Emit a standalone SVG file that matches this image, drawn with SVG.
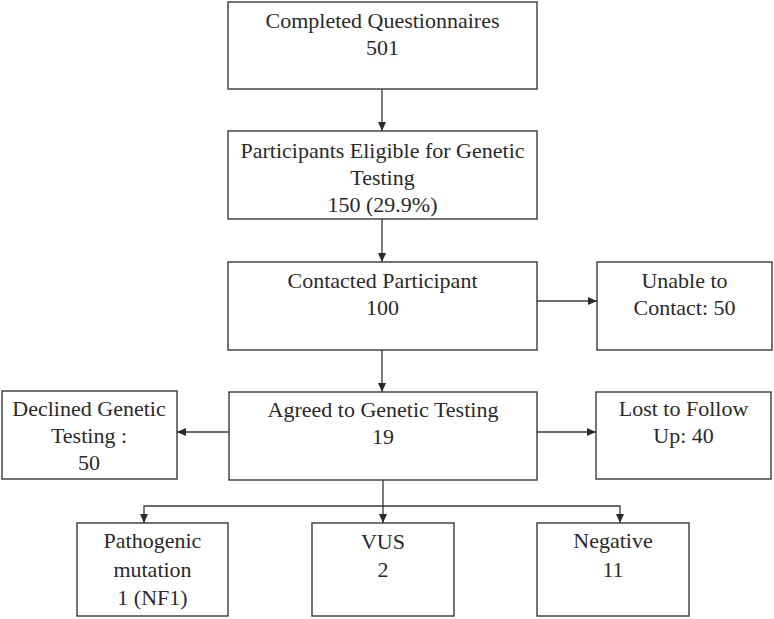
<svg xmlns="http://www.w3.org/2000/svg" width="774" height="619" viewBox="0 0 774 619">
<style>
.box{fill:#fff;stroke:#3a3a3a;stroke-width:1.4}
.t{font-size:22px;fill:#2a2a2a;text-anchor:middle}
.c{fill:none;stroke:#3a3a3a;stroke-width:1.3}
</style>
<defs>
<marker id="ah" markerUnits="userSpaceOnUse" markerWidth="9" markerHeight="8" refX="9" refY="4" orient="auto">
<path d="M0,0 L9,4 L0,8 z" fill="#2a2a2a"/>
</marker>
</defs>
<rect width="774" height="619" fill="#fff"/>
<g id="connectors">
<line class="c" x1="382" y1="89" x2="382" y2="131" marker-end="url(#ah)"/>
<line class="c" x1="382" y1="219" x2="382" y2="262" marker-end="url(#ah)"/>
<line class="c" x1="537" y1="301" x2="597" y2="301" marker-end="url(#ah)"/>
<line class="c" x1="382" y1="350" x2="382" y2="392" marker-end="url(#ah)"/>
<line class="c" x1="229" y1="432" x2="177" y2="432" marker-end="url(#ah)"/>
<line class="c" x1="537" y1="432" x2="596" y2="432" marker-end="url(#ah)"/>
<line class="c" x1="383" y1="480" x2="383" y2="523" marker-end="url(#ah)"/>
<path class="c" d="M383,506 H144 V523" marker-end="url(#ah)"/>
<path class="c" d="M383,506 H620 V523" marker-end="url(#ah)"/>
</g>
<g font-family="'Liberation Serif', 'Times New Roman', Times, serif">
<g id="completed">
<rect class="box" x="228" y="2" width="309" height="87"/>
<text class="t" x="382.5" y="28">Completed Questionnaires</text>
<text class="t" x="382.5" y="55">501</text>
</g>
<g id="eligible">
<rect class="box" x="228" y="131" width="309" height="88"/>
<text class="t" x="382.5" y="158">Participants Eligible for Genetic</text>
<text class="t" x="382.5" y="185">Testing</text>
<text class="t" x="382.5" y="212">150 (29.9%)</text>
</g>
<g id="contacted">
<rect class="box" x="228" y="262" width="309" height="88"/>
<text class="t" x="382.5" y="288">Contacted Participant</text>
<text class="t" x="382.5" y="315">100</text>
</g>
<g id="unable">
<rect class="box" x="597" y="262" width="175" height="88"/>
<text class="t" x="684.5" y="288">Unable to</text>
<text class="t" x="684.5" y="315">Contact: 50</text>
</g>
<g id="agreed">
<rect class="box" x="229" y="392" width="308" height="88"/>
<text class="t" x="383" y="417">Agreed to Genetic Testing</text>
<text class="t" x="383" y="444">19</text>
</g>
<g id="declined">
<rect class="box" x="2" y="391" width="175" height="88"/>
<text class="t" x="89" y="416">Declined Genetic</text>
<text class="t" x="89" y="443">Testing :</text>
<text class="t" x="89" y="470">50</text>
</g>
<g id="lost">
<rect class="box" x="596" y="392" width="175" height="87"/>
<text class="t" x="683.5" y="416">Lost to Follow</text>
<text class="t" x="683.5" y="443">Up: 40</text>
</g>
<g id="pathogenic">
<rect class="box" x="77" y="523" width="151" height="93"/>
<text class="t" x="152.5" y="548">Pathogenic</text>
<text class="t" x="152.5" y="577">mutation</text>
<text class="t" x="152.5" y="605">1 (NF1)</text>
</g>
<g id="vus">
<rect class="box" x="312" y="523" width="142" height="93"/>
<text class="t" x="383" y="549">VUS</text>
<text class="t" x="383" y="577">2</text>
</g>
<g id="negative">
<rect class="box" x="537" y="523" width="152" height="93"/>
<text class="t" x="613" y="548">Negative</text>
<text class="t" x="613" y="577">11</text>
</g>
</g>
</svg>
